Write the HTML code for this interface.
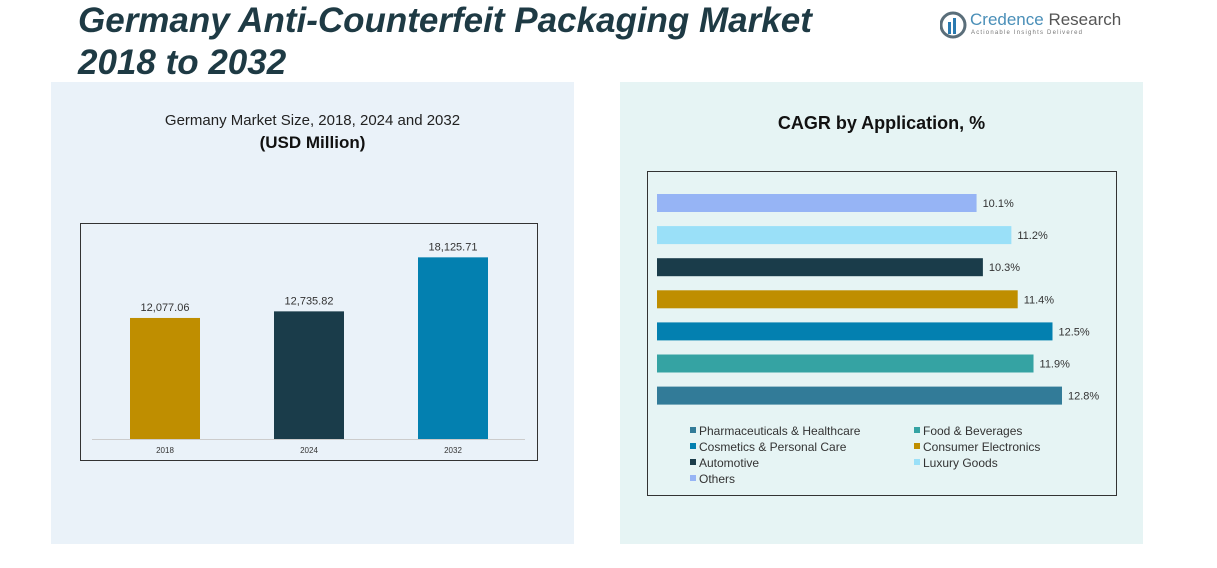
<!DOCTYPE html>
<html><head><meta charset="utf-8"><style>
body{margin:0;width:1217px;height:568px;background:#fff;font-family:"Liberation Sans",sans-serif;position:relative;overflow:hidden}
.t{position:absolute;left:78px;font-weight:bold;font-style:italic;font-size:35px;color:#1e3a44;line-height:42px}
</style></head><body>
<div style="position:absolute;left:51px;top:82px;width:523px;height:462px;background:#eaf2f9"></div>
<div style="position:absolute;left:620px;top:82px;width:523px;height:462px;background:#e6f4f4"></div>
<div class="t" style="top:0">Germany Anti-Counterfeit Packaging Market</div>
<div class="t" style="top:42px">2018 to 2032</div>
<div style="position:absolute;left:940px;top:8px;width:200px;height:32px;white-space:nowrap">
<svg width="28" height="30" style="position:absolute;left:0;top:2px"><circle cx="13" cy="15" r="12" fill="none" stroke="#5a6e7a" stroke-width="3"/><rect x="8" y="12" width="3" height="12" fill="#2a7ab0"/><rect x="13" y="8" width="3" height="16" fill="#2a7ab0"/></svg>
<div style="position:absolute;left:30px;top:2px;font-size:17px;color:#4a8fb8;white-space:nowrap">Credence <span style="color:#555">Research</span></div>
<div style="position:absolute;left:31px;top:22px;font-size:6px;letter-spacing:1.2px;color:#777;white-space:nowrap">Actionable Insights Delivered</div></div>
<div style="position:absolute;left:51px;width:523px;top:112px;text-align:center;font-size:15px;color:#222">Germany Market Size, 2018, 2024 and 2032</div>
<div style="position:absolute;left:51px;width:523px;top:133px;text-align:center;font-size:17px;font-weight:bold;color:#111">(USD Million)</div>
<div style="position:absolute;left:620px;width:523px;top:113px;text-align:center;font-size:18px;font-weight:bold;color:#111">CAGR by Application, %</div>
<svg id="c1" style="position:absolute;left:0;top:0" width="1217" height="568"></svg>
<script>
const years=["2018","2024","2032"];
const sizes=[12077.06,12735.82,18125.71];
const sizeLabels=["12,077.06","12,735.82","18,125.71"];
const apps=["Others","Luxury Goods","Automotive","Consumer Electronics","Cosmetics & Personal Care","Food & Beverages","Pharmaceuticals & Healthcare"];
const cagr=[10.1,11.2,10.3,11.4,12.5,11.9,12.8];
const appColors=["#96b4f5","#9ae0f8","#1a3c4a","#bf8e00","#0380b0","#35a3a3","#327b98"];
const yearColors=["#bf8e00","#1a3c4a","#0380b0"];
const ns="http://www.w3.org/2000/svg",svg=document.getElementById('c1');
function mk(t,a,p){const e=document.createElementNS(ns,t);for(const k in a)e.setAttribute(k,a[k]);(p||svg).appendChild(e);return e;}
let b=mk('rect',{x:80.5,y:223.5,width:457,height:237,fill:'none',stroke:'#333'});

let bl=mk('line',{x1:92,x2:525,y1:439.5,y2:439.5,stroke:'#ccc'});

const base=439,ys=v=>v*0.010022,xs=i=>130+i*144;
years.forEach((y,i)=>{
 const h=ys(sizes[i]);
 const r=mk('rect',{x:xs(i),y:base-h,width:70,height:h,fill:yearColors[i]});
 
 const t=mk('text',{x:xs(i)+35,y:base-h-7,'text-anchor':'middle','font-size':11,fill:'#333'});t.textContent=sizeLabels[i];
 
 const l=mk('text',{x:xs(i)+35,y:453,'text-anchor':'middle','font-size':8,fill:'#333'});l.textContent=y;
 
});
let f2=mk('rect',{x:647.5,y:171.5,width:469,height:324,fill:'none',stroke:'#333'});

const px=v=>657+v*31.64,py=i=>194+i*32.1;
apps.forEach((a,i)=>{
 const r=mk('rect',{x:657,y:py(i),width:px(cagr[i])-657,height:18,fill:appColors[i]});
 
 const t=mk('text',{x:px(cagr[i])+6,y:py(i)+13,'font-size':11,fill:'#333'});t.textContent=cagr[i].toFixed(1)+'%';
 
});
const legOrder=[6,5,4,3,2,1,0];
legOrder.forEach((k,j)=>{
 const x=690+(j%2)*224,y=431+Math.floor(j/2)*16;
 const s=mk('rect',{x:x,y:y-4,width:6,height:6,fill:appColors[k]});
 
 const t=mk('text',{x:x+9,y:y+4,'font-size':12,fill:'#333'});t.textContent=apps[k];
 
});
</script>
</body></html>
